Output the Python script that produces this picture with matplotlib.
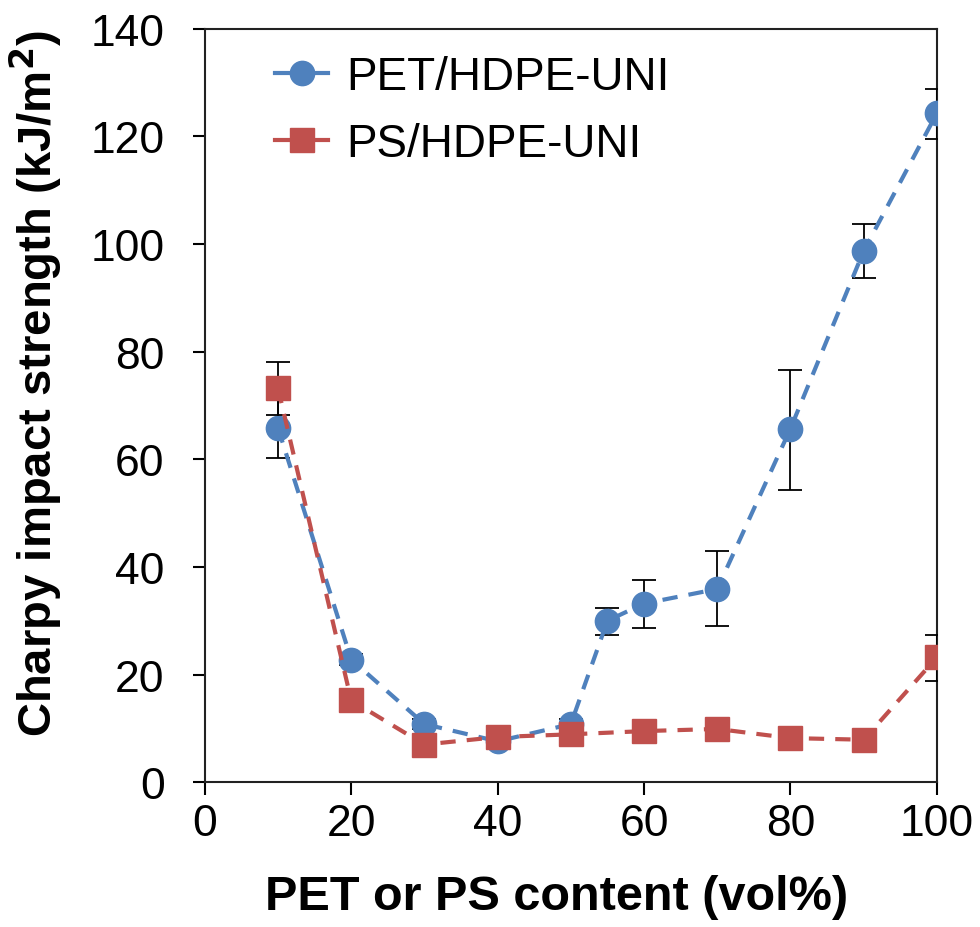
import matplotlib
matplotlib.use("Agg")
import matplotlib.pyplot as plt
from matplotlib.lines import Line2D

plt.rcParams['font.family'] = ['Liberation Sans', 'DejaVu Sans']
plt.rcParams['lines.scale_dashes'] = False

# Data
pet_x = [10, 20, 30, 40, 50, 55, 60, 70, 80, 90, 100]
pet_y = [65.8, 22.8, 10.8, 7.6, 10.8, 30.0, 33.2, 35.9, 65.7, 98.7, 124.3]
pet_err_lo = [5.5, 1.0, 1.0, 0.8, 1.0, 2.7, 4.6, 6.9, 11.4, 5.0, 4.8]
pet_err_hi = [5.5, 1.0, 1.0, 0.8, 1.0, 2.3, 4.4, 7.0, 10.9, 5.0, 4.5]

ps_x = [10, 20, 30, 40, 50, 60, 70, 80, 90, 100]
ps_y = [73.2, 15.2, 7.0, 8.4, 8.9, 9.5, 9.9, 8.2, 7.9, 23.2]
ps_err_lo = [4.9, 1.0, 0.8, 0.8, 0.8, 0.8, 0.8, 0.8, 0.8, 4.4]
ps_err_hi = [4.9, 1.0, 0.8, 0.8, 0.8, 0.8, 0.8, 0.8, 0.8, 4.1]

x_ticks = [0, 20, 40, 60, 80, 100]
y_ticks = [0, 20, 40, 60, 80, 100, 120, 140]

blue = '#4F81BD'
red = '#C0504D'

fig = plt.figure(figsize=(9.8, 9.28), dpi=100)
ax = fig.add_axes([0.209, 0.156, 0.747, 0.812])

for x, y, lo, hi, c, m, z in [
        (pet_x, pet_y, pet_err_lo, pet_err_hi, blue, 'o', 3),
        (ps_x, ps_y, ps_err_lo, ps_err_hi, red, 's', 6)]:
    ax.errorbar(x, y, yerr=[lo, hi], fmt='none', ecolor='black',
                elinewidth=1.3, capsize=8.5, capthick=1.3, zorder=z)
    ax.plot(x, y, linestyle=(0, (11, 8)), color=c, linewidth=3,
            marker=m, markersize=17.5, markerfacecolor=c,
            markeredgecolor=c, zorder=z + 1)

ax.set_xlim(0, 100)
ax.set_ylim(0, 140)
ax.set_xticks(x_ticks)
ax.set_yticks(y_ticks)
ax.tick_params(axis='x', direction='out', length=9, width=1.5,
               labelsize=32, pad=6)
ax.tick_params(axis='y', direction='out', length=9, width=1.5,
               labelsize=32, pad=20)
for s in ax.spines.values():
    s.set_linewidth(1.5)
    s.set_color('#222222')

ax.set_xlabel('PET or PS content (vol%)', fontsize=35, fontweight='bold')
ax.xaxis.set_label_coords(0.48, -0.122)
ax.set_ylabel('Charpy impact strength (kJ/m$^\\mathbf{2}$)', fontsize=34,
              fontweight='bold')
ax.yaxis.set_label_coords(-0.193, 0.53)

handles = [
    Line2D([], [], color=blue, linewidth=3, marker='o', markersize=17.5),
    Line2D([], [], color=red, linewidth=3, marker='s', markersize=17.5),
]
ax.legend(handles, ['PET/HDPE-UNI', 'PS/HDPE-UNI'], loc='upper left',
          bbox_to_anchor=(0.04, 1.02), frameon=False, fontsize=33,
          handlelength=1.15, handletextpad=0.4, labelspacing=0.5)

fig.savefig('out.png', dpi=100)
